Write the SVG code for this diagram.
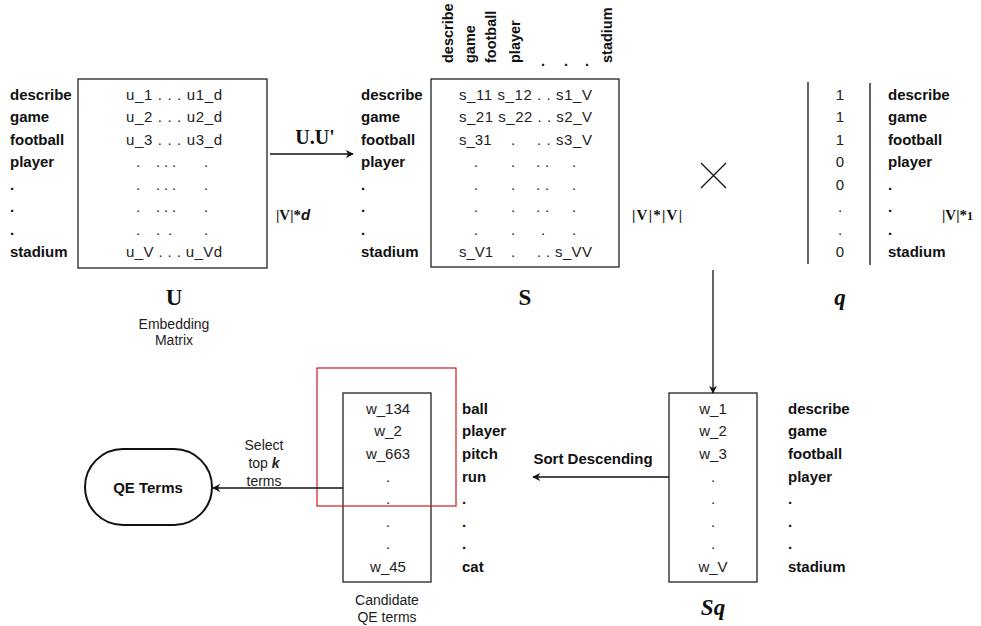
<svg xmlns="http://www.w3.org/2000/svg" width="981" height="626" viewBox="0 0 981 626">
<defs>
<style>
.lbl{font-family:"Liberation Sans",Arial,sans-serif;font-weight:bold;font-size:15px;fill:#111}
.hdr{font-family:"Liberation Sans",Arial,sans-serif;font-weight:bold;font-size:14.5px;fill:#111}
.val{font-family:"Liberation Sans",Arial,sans-serif;font-size:15px;fill:#222}
.cv{font-family:"Liberation Sans",Arial,sans-serif;font-size:15px;fill:#222;text-anchor:middle}
.sm{font-family:"Liberation Sans",Arial,sans-serif;font-size:14px;fill:#222;text-anchor:middle}
.ser{font-family:"Liberation Serif","Times New Roman",serif;font-weight:bold;fill:#111}
.box{fill:none;stroke:#222;stroke-width:1.3}
.ln{fill:none;stroke:#111;stroke-width:1.3}
</style>
<marker id="arr" viewBox="0 0 10 10" refX="9" refY="5" markerWidth="8" markerHeight="8" orient="auto" markerUnits="userSpaceOnUse">
<path d="M0,0 L10,5 L0,10 L3,5 z" fill="#111"/>
</marker>
</defs>
<rect width="981" height="626" fill="#fff"/>

<g id="U">
<rect class="box" x="78" y="79" width="189" height="189"/>
<g class="lbl">
<text x="10" y="100">describe</text><text x="10" y="122">game</text><text x="10" y="145">football</text><text x="10" y="167">player</text>
<text x="10" y="190">.</text><text x="10" y="212">.</text><text x="10" y="235">.</text><text x="10" y="257">stadium</text>
</g>
<g class="cv">
<text x="174" y="100" textLength="96" lengthAdjust="spacing">u_1 . . . u1_d</text>
<text x="174" y="122" textLength="96" lengthAdjust="spacing">u_2 . . . u2_d</text>
<text x="174" y="145" textLength="96" lengthAdjust="spacing">u_3 . . . u3_d</text>
<text x="174" y="257" textLength="96" lengthAdjust="spacing">u_V . . . u_Vd</text>
</g>
<g class="cv">
<text x="138" y="167">.</text><text x="158" y="167">.</text><text x="166" y="167">.</text><text x="174" y="167">.</text><text x="206" y="167">.</text>
<text x="138" y="190">.</text><text x="158" y="190">.</text><text x="166" y="190">.</text><text x="174" y="190">.</text><text x="206" y="190">.</text>
<text x="138" y="212">.</text><text x="158" y="212">.</text><text x="166" y="212">.</text><text x="174" y="212">.</text><text x="206" y="212">.</text>
<text x="138" y="235">.</text><text x="158" y="235">.</text><text x="170" y="235">.</text><text x="206" y="235">.</text>
</g>
<text class="ser" x="174" y="305" font-size="23" text-anchor="middle">U</text>
<text class="sm" x="174" y="329">Embedding</text>
<text class="sm" x="174" y="345">Matrix</text>
<text class="ser" x="276" y="220" font-size="15">|V|*<tspan font-family="Liberation Sans,Arial,sans-serif" font-style="italic">d</tspan></text>
</g>

<g id="S">
<rect class="box" x="431" y="79" width="188" height="188"/>
<g class="lbl">
<text x="361" y="100">describe</text><text x="361" y="122">game</text><text x="361" y="145">football</text><text x="361" y="167">player</text>
<text x="361" y="190">.</text><text x="361" y="212">.</text><text x="361" y="235">.</text><text x="361" y="257">stadium</text>
</g>
<g class="hdr">
<text transform="translate(453,63) rotate(-90)">describe</text>
<text transform="translate(475,63) rotate(-90)">game</text>
<text transform="translate(496,63) rotate(-90)">football</text>
<text transform="translate(520,63) rotate(-90)">player</text>
<text x="541" y="66">.</text><text x="564" y="66">.</text><text x="585" y="66">.</text>
<text transform="translate(612,63) rotate(-90)">stadium</text>
</g>
<g class="val">
<text x="459" y="100" textLength="133" lengthAdjust="spacing">s_11 s_12 . . s1_V</text>
<text x="459" y="122" textLength="133" lengthAdjust="spacing">s_21 s_22 . . s2_V</text>
<text x="459" y="145">s_31</text><text x="511" y="145">.</text><text x="537" y="145" textLength="55" lengthAdjust="spacing">. . s3_V</text>
<text x="459" y="257">s_V1</text><text x="511" y="257">.</text><text x="537" y="257" textLength="55" lengthAdjust="spacing">. . s_VV</text>
</g>
<g class="cv" fill="#555">
<text x="476" y="167">.</text><text x="513" y="167">.</text><text x="538" y="167">.</text><text x="547" y="167">.</text><text x="574" y="167">.</text>
<text x="476" y="190">.</text><text x="513" y="190">.</text><text x="538" y="190">.</text><text x="547" y="190">.</text><text x="574" y="190">.</text>
<text x="476" y="212">.</text><text x="513" y="212">.</text><text x="538" y="212">.</text><text x="547" y="212">.</text><text x="574" y="212">.</text>
<text x="476" y="235">.</text><text x="513" y="235">.</text><text x="543" y="235">.</text><text x="574" y="235">.</text>
</g>
<text class="ser" x="525" y="305" font-size="23" text-anchor="middle">S</text>
<text class="ser" x="632" y="220" font-size="15" textLength="50" lengthAdjust="spacing">|V|*|V|</text>
</g>

<g id="times">
<path class="ln" d="M701,163 L726,188 M726,163 L701,188" stroke-width="1.5"/>
</g>

<g id="q">
<line class="ln" x1="808" y1="82" x2="808" y2="264"/>
<line class="ln" x1="870" y1="83" x2="870" y2="265"/>
<g class="cv">
<text x="840" y="100">1</text><text x="840" y="122">1</text><text x="840" y="145">1</text><text x="840" y="167">0</text>
<text x="840" y="190">0</text><text x="840" y="212">.</text><text x="840" y="235">.</text><text x="840" y="257">0</text>
</g>
<g class="lbl">
<text x="888" y="100">describe</text><text x="888" y="122">game</text><text x="888" y="145">football</text><text x="888" y="167">player</text>
<text x="888" y="190">.</text><text x="888" y="212">.</text><text x="888" y="235">.</text><text x="888" y="257">stadium</text>
</g>
<text class="ser" x="942" y="220" font-size="15">|V|*<tspan font-size="12">1</tspan></text>
<text class="ser" x="840" y="305" font-size="23" font-style="italic" text-anchor="middle">q</text>
</g>

<g id="Sq">
<rect class="box" x="669" y="393" width="88" height="189"/>
<g class="cv">
<text x="713" y="414">w_1</text><text x="713" y="436">w_2</text><text x="713" y="459">w_3</text><text x="713" y="482">.</text>
<text x="713" y="504">.</text><text x="713" y="527">.</text><text x="713" y="549">.</text><text x="713" y="572">w_V</text>
</g>
<g class="lbl">
<text x="788" y="414">describe</text><text x="788" y="436">game</text><text x="788" y="459">football</text><text x="788" y="482">player</text>
<text x="788" y="504">.</text><text x="788" y="527">.</text><text x="788" y="549">.</text><text x="788" y="572">stadium</text>
</g>
<text class="ser" x="713" y="615" font-size="23" font-style="italic" text-anchor="middle">Sq</text>
</g>

<g id="candidate">
<rect class="box" x="343" y="393" width="88" height="189"/>
<g class="cv">
<text x="388" y="414">w_134</text><text x="388" y="436">w_2</text><text x="388" y="459">w_663</text><text x="388" y="482">.</text>
<text x="388" y="504">.</text><text x="388" y="527">.</text><text x="388" y="549">.</text><text x="388" y="572">w_45</text>
</g>
<g class="lbl">
<text x="462" y="414">ball</text><text x="462" y="436">player</text><text x="462" y="459">pitch</text><text x="462" y="482">run</text>
<text x="462" y="504">.</text><text x="462" y="527">.</text><text x="462" y="549">.</text><text x="462" y="572">cat</text>
</g>
<text class="sm" x="387" y="605">Candidate</text>
<text class="sm" x="387" y="622">QE terms</text>
</g>

<g id="highlight">
<rect x="317" y="368" width="139" height="138" fill="none" stroke="#d0191b" stroke-width="1.2"/>
</g>

<g id="qeterms">
<rect x="85" y="449" width="127" height="76" rx="38" ry="38" fill="#fff" stroke="#111" stroke-width="2"/>
<text class="lbl" x="148" y="493" text-anchor="middle" font-size="14.5">QE Terms</text>
</g>

<g id="connectors">
<line class="ln" x1="270" y1="154" x2="353" y2="154" marker-end="url(#arr)"/>
<text class="ser" x="315" y="144" font-size="20" text-anchor="middle">U.U'</text>
<line class="ln" x1="713" y1="270" x2="713" y2="393" marker-end="url(#arr)"/>
<line class="ln" x1="669" y1="477" x2="533" y2="477" marker-end="url(#arr)"/>
<text class="lbl" x="593" y="464" text-anchor="middle" font-size="14">Sort Descending</text>
<line class="ln" x1="343" y1="488" x2="213" y2="488" marker-end="url(#arr)"/>
<text class="sm" x="264" y="450">Select</text>
<text class="sm" x="264" y="468">top <tspan font-weight="bold" font-style="italic">k</tspan></text>
<text class="sm" x="264" y="486">terms</text>
</g>
</svg>
